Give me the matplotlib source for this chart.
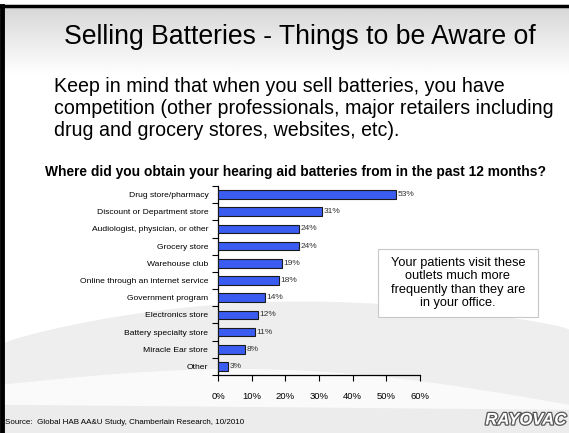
import numpy as np
import matplotlib.pyplot as plt
import matplotlib.patheffects as pe
from matplotlib.patches import Rectangle

# Chart data
CATEGORIES = [
    "Drug store/pharmacy",
    "Discount or Department store",
    "Audiologist, physician, or other",
    "Grocery store",
    "Warehouse club",
    "Online through an internet service",
    "Government program",
    "Electronics store",
    "Battery specialty store",
    "Miracle Ear store",
    "Other",
]
VALUES = [53, 31, 24, 24, 19, 18, 14, 12, 11, 8, 3]
X_TICKS = [0, 10, 20, 30, 40, 50, 60]

TITLE = "Selling Batteries - Things to be Aware of"
BODY_LINES = [
    "Keep in mind that when you sell batteries, you have",
    "competition (other professionals, major retailers including",
    "drug and grocery stores, websites, etc).",
]
CHART_TITLE = "Where did you obtain your hearing aid batteries from in the past 12 months?"
CALLOUT = "Your patients visit these\noutlets much more\nfrequently than they are\nin your office."
SOURCE = "Source:  Global HAB AA&U Study, Chamberlain Research, 10/2010"

W, H = 569, 433
SANS = ["Liberation Sans", "DejaVu Sans"]

fig = plt.figure(figsize=(W / 100, H / 100), dpi=100)

# slide background: gray header gradient + swoosh at bottom
bg = fig.add_axes([0, 0, 1, 1])
bg.set_xlim(0, W)
bg.set_ylim(H, 0)
bg.axis("off")
grad = np.linspace(0.84, 1.0, 80)
bg.imshow(np.tile(grad[:, None], (1, 2)), cmap="gray", vmin=0, vmax=1,
          extent=[0, W, 75, 6], aspect="auto", zorder=0)
xs = np.linspace(0, W, 200)
t = xs / W
upper = 345 + 10 * t - 45 * np.sin(np.pi * t) ** 0.8 - 25 * t ** 3
bg.fill_between(xs, upper, H, color="#eeeeee", zorder=0)
lower = 385 + 20 * t - 25 * np.sin(np.pi * t)
bg.fill_between(xs, lower, H, color="#fafafa", zorder=0)
bg.fill_between(xs, 405 + 5 * t, H, color="#ececec", zorder=0)
bg.plot([0, W], [6, 6], color="black", lw=2.5, zorder=5)
bg.plot([2.5, 2.5], [6, H], color="black", lw=3.5, zorder=5)

bg.text(300, 37, TITLE, ha="center", va="center", fontsize=19.2, family=SANS)
for i, line in enumerate(BODY_LINES):
    bg.text(54, 87 + 22 * i, line, ha="left", va="center", fontsize=14.1,
            family=SANS)
bg.text(296, 172, CHART_TITLE, ha="center", va="center", fontsize=9.9,
        fontweight="bold", family=SANS)
bg.text(5, 422, SOURCE, ha="left", va="center", fontsize=5.8, family=SANS)

# callout box
bg.add_patch(Rectangle((378, 249), 160, 68, facecolor="white",
                       edgecolor="#c8c8c8", lw=0.8, zorder=3))
bg.text(458, 283, CALLOUT, ha="center", va="center", fontsize=9.2,
        family=SANS, linespacing=1.15, zorder=4)

# logo
bg.text(566, 420, "RAYOVAC", ha="right", va="center", fontsize=12,
        fontweight="bold", style="italic", family=SANS, color="white",
        path_effects=[pe.withStroke(linewidth=1.8, foreground="#555555")],
        zorder=4)

# bar chart
ax = fig.add_axes([218 / W, 1 - 375 / H, 202 / W, 189 / H])
ax.patch.set_alpha(0)
n = len(CATEGORIES)
y = np.arange(n)
ax.barh(y, VALUES, height=0.5, color="#3a5cf0", edgecolor="#1a1a1a",
        lw=0.8, zorder=3)
for yi, v in zip(y, VALUES):
    ax.text(v + 0.4, yi, f"{v}%", ha="left", va="center", fontsize=6,
            family=SANS, color="#333333")

ax.set_ylim(n - 0.5, -0.5)
ax.set_xlim(0, 60)
ax.set_yticks(y)
ax.set_yticklabels(CATEGORIES, family=SANS, fontsize=6.1)
ax.set_yticks(np.arange(n + 1) - 0.5, minor=True)
ax.tick_params(axis="y", which="major", length=0, pad=7)
ax.tick_params(axis="y", which="minor", length=4, width=0.8, direction="out")
ax.set_xticks(X_TICKS)
ax.set_xticklabels([f"{t}%" for t in X_TICKS], family=SANS, fontsize=6.8)
ax.tick_params(axis="x", length=4, width=0.8, direction="out", pad=8)
for side in ("top", "right"):
    ax.spines[side].set_visible(False)
for side in ("left", "bottom"):
    ax.spines[side].set_linewidth(0.9)

fig.savefig("out.png", dpi=100)
